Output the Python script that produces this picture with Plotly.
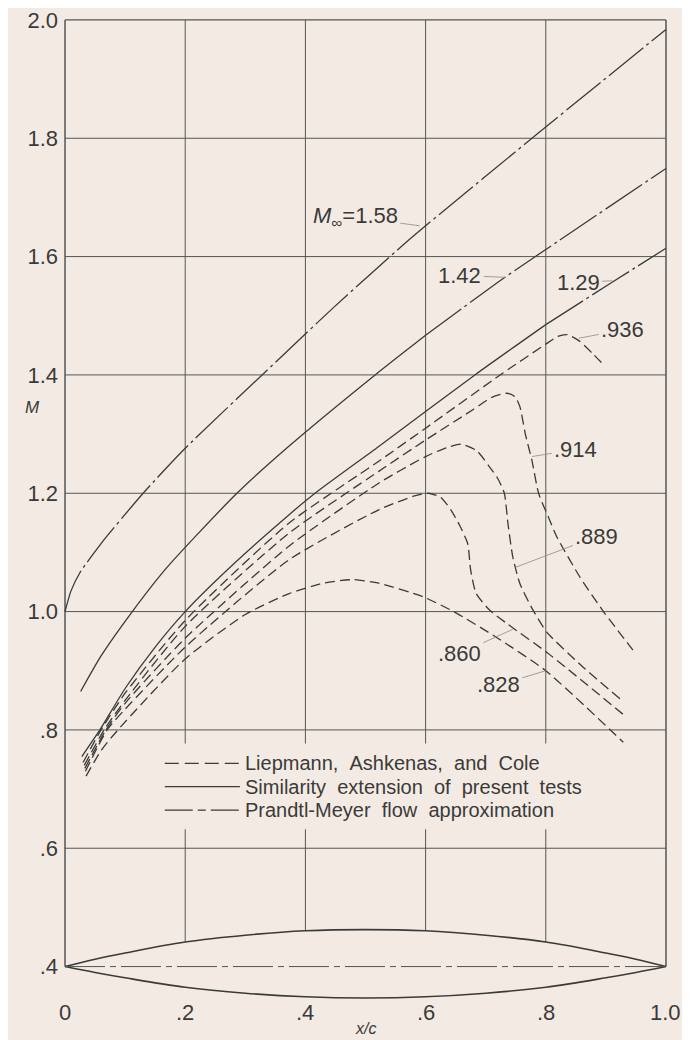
import numpy as np
import plotly.graph_objects as go

BG = "#f3ebe3"
INK = "#3a3a3a"
GRID = "#555555"
LEADER = "#9a948e"
FONT = "Liberation Sans, Arial, sans-serif"

# ---- axes ----
x_ticks = [0, 0.2, 0.4, 0.6, 0.8, 1.0]
x_ticklabels = ["0", ".2", ".4", ".6", ".8", "1.0"]
y_ticks = [0.4, 0.6, 0.8, 1.0, 1.2, 1.4, 1.6, 1.8, 2.0]
y_ticklabels = [".4", ".6", ".8", "1.0", "1.2", "1.4", "1.6", "1.8", "2.0"]

# ---- Liepmann, Ashkenas, and Cole (dashed) ----
m936_x = [0.03, 0.06, 0.1, 0.2, 0.372, 0.522, 0.6, 0.727, 0.8, 0.82, 0.836, 0.855, 0.878, 0.899]
m936_y = [0.745, 0.8, 0.862, 0.985, 1.149, 1.254, 1.31, 1.402, 1.452, 1.465, 1.468, 1.458, 1.436, 1.414]

m914_x = [0.032, 0.065, 0.1, 0.2, 0.372, 0.522, 0.6, 0.68, 0.71, 0.735, 0.749, 0.757, 0.766,
          0.777, 0.788, 0.805, 0.818, 0.857, 0.896, 0.945]
m914_y = [0.74, 0.8, 0.85, 0.975, 1.132, 1.237, 1.29, 1.342, 1.362, 1.369, 1.363, 1.346, 1.30,
          1.255, 1.2, 1.158, 1.127, 1.058, 1.0, 0.935]

m889_x = [0.033, 0.068, 0.1, 0.2, 0.372, 0.522, 0.6, 0.635, 0.659, 0.685, 0.706, 0.72, 0.731,
          0.737, 0.745, 0.757, 0.779, 0.802, 0.86, 0.924]
m889_y = [0.735, 0.8, 0.845, 0.955, 1.11, 1.217, 1.262, 1.277, 1.283, 1.272, 1.245, 1.225, 1.2,
          1.149, 1.093, 1.047, 1.002, 0.965, 0.908, 0.852]

m860_x = [0.034, 0.07, 0.1, 0.2, 0.372, 0.522, 0.58, 0.605, 0.625, 0.642, 0.657, 0.67, 0.675,
          0.684, 0.706, 0.735, 0.803, 0.935]
m860_y = [0.73, 0.8, 0.835, 0.94, 1.087, 1.172, 1.195, 1.2, 1.193, 1.172, 1.145, 1.115, 1.07,
          1.031, 1.003, 0.98, 0.93, 0.821]

m828_x = [0.035, 0.06, 0.088, 0.2, 0.3, 0.372, 0.43, 0.479, 0.522, 0.596, 0.652, 0.72, 0.8, 0.929]
m828_y = [0.722, 0.765, 0.8, 0.92, 0.995, 1.03, 1.048, 1.054, 1.048, 1.025, 0.997, 0.955, 0.9, 0.779]

# ---- similarity extension (solid) continuing as Prandtl-Meyer (dash-dot) ----
m142_x = [0.026, 0.06, 0.112, 0.17, 0.286, 0.372, 0.516, 0.6, 0.732, 0.819, 1.0]
m142_y = [0.865, 0.925, 1.0, 1.075, 1.2, 1.279, 1.4, 1.467, 1.565, 1.625, 1.749]
m142_split = 0.6

m129_x = [0.028, 0.058, 0.1, 0.15, 0.2, 0.28, 0.372, 0.416, 0.522, 0.682, 0.8, 0.911, 1.0]
m129_y = [0.755, 0.8, 0.87, 0.94, 1.0, 1.08, 1.163, 1.2, 1.279, 1.4, 1.485, 1.557, 1.614]
m129_split = 0.8

# ---- Prandtl-Meyer (dash-dot) ----
m158_x = [0.0, 0.01, 0.025, 0.06, 0.13, 0.2, 0.328, 0.448, 0.563, 0.6, 0.783, 1.0]
m158_y = [1.0, 1.035, 1.066, 1.115, 1.2, 1.276, 1.4, 1.515, 1.62, 1.652, 1.805, 1.984]

# ---- airfoil (biconvex section drawn along M = .4) ----
foil_base = 0.4
foil_x = [0, 0.05, 0.1, 0.2, 0.3, 0.4, 0.5, 0.6, 0.7, 0.8, 0.9, 0.95, 1.0]
foil_upper = [0, 0.0125, 0.023, 0.0415, 0.053, 0.0605, 0.0625, 0.0605, 0.053, 0.0415, 0.023, 0.0125, 0]
foil_lower = [0, 0.010, 0.019, 0.035, 0.045, 0.051, 0.053, 0.051, 0.045, 0.035, 0.019, 0.010, 0]

# ---- curve labels: text, text position, leader end on curve ----
lab_text = ["<i>M</i><sub>∞</sub>=1.58", "1.42", "1.29", ".936", ".914", ".889", ".860", ".828"]
lab_x = [0.483, 0.657, 0.854, 0.928, 0.85, 0.885, 0.656, 0.721]
lab_y = [1.667, 1.568, 1.557, 1.476, 1.274, 1.127, 0.929, 0.876]
lab_hx = [0.59, 0.732, 0.911, 0.855, 0.777, 0.75, 0.745, 0.8]
lab_hy = [1.652, 1.565, 1.559, 1.462, 1.262, 1.075, 0.97, 0.9]

# ---- key (legend) ----
legend_names = ["Liepmann, Ashkenas, and Cole",
                "Similarity extension of present tests",
                "Prandtl-Meyer flow approximation"]

DASH = "10px,5px"
DASHDOT = "44px,4px,3px,4px"
KEY_DASH = ["14px,6px", "solid", "28px,5px,8px,5px"]
LW = 1.3

# key placement (in axis units)
key_box = dict(x0=0.14, x1=0.907, y0=0.632, y1=0.777)
key_line_x = (0.166, 0.291)
key_text_x = 0.297
key_rows_y = [0.7435, 0.704, 0.6644]

fig = go.Figure()

# airfoil
fig.add_trace(go.Scatter(x=foil_x, y=[foil_base + v for v in foil_upper], mode="lines",
                         line=dict(color=INK, width=1.6, shape="spline", smoothing=1.0),
                         showlegend=False, hoverinfo="skip"))
fig.add_trace(go.Scatter(x=foil_x, y=[foil_base - v for v in foil_lower], mode="lines",
                         line=dict(color=INK, width=1.6, shape="spline", smoothing=1.0),
                         showlegend=False, hoverinfo="skip"))
fig.add_trace(go.Scatter(x=[foil_x[0], foil_x[-1]], y=[foil_base, foil_base], mode="lines",
                         line=dict(color=GRID, width=1.0, dash="40px,5px,6px,5px"),
                         showlegend=False, hoverinfo="skip"))

# dashed curves
dashed = [(m936_x, m936_y), (m914_x, m914_y), (m889_x, m889_y), (m860_x, m860_y), (m828_x, m828_y)]
for xs, ys in dashed:
    fig.add_trace(go.Scatter(x=xs, y=ys, mode="lines", name=legend_names[0], showlegend=False,
                             line=dict(color=INK, width=LW, dash=DASH, shape="spline", smoothing=0.6),
                             hoverinfo="skip"))

# solid + dash-dot curves
for xs, ys, sp in [(m142_x, m142_y, m142_split), (m129_x, m129_y, m129_split)]:
    k = xs.index(sp)
    fig.add_trace(go.Scatter(x=xs[:k + 1], y=ys[:k + 1], mode="lines", name=legend_names[1],
                             showlegend=False,
                             line=dict(color=INK, width=LW, shape="spline", smoothing=0.6),
                             hoverinfo="skip"))
    fig.add_trace(go.Scatter(x=xs[k:], y=ys[k:], mode="lines", name=legend_names[2],
                             showlegend=False,
                             line=dict(color=INK, width=LW, dash=DASHDOT, shape="spline", smoothing=0.6),
                             hoverinfo="skip"))

fig.add_trace(go.Scatter(x=m158_x, y=m158_y, mode="lines", name=legend_names[2], showlegend=False,
                         line=dict(color=INK, width=LW, dash=DASHDOT, shape="spline", smoothing=0.6),
                         hoverinfo="skip"))

# grid as shapes (vertical lines stop on the airfoil)
shapes = []
for xv in x_ticks:
    ybot = foil_base + float(np.interp(xv, foil_x, foil_upper))
    w = 1.5 if xv in (0, 1.0) else 1.0
    shapes.append(dict(type="line", xref="x", yref="y", x0=xv, x1=xv, y0=ybot, y1=y_ticks[-1],
                       line=dict(color=GRID, width=w), layer="below"))
for yv in y_ticks[1:]:
    shapes.append(dict(type="line", xref="x", yref="y", x0=x_ticks[0], x1=x_ticks[-1], y0=yv, y1=yv,
                       line=dict(color=GRID, width=1.2 if yv == 2.0 else 1.0), layer="below"))

# key: blank box over the grid, sample lines
shapes.append(dict(type="rect", xref="x", yref="y", layer="below", fillcolor=BG,
                   line=dict(width=0), **key_box))
for dsh, ry in zip(KEY_DASH, key_rows_y):
    shapes.append(dict(type="line", xref="x", yref="y", x0=key_line_x[0], x1=key_line_x[1],
                       y0=ry, y1=ry, line=dict(color=INK, width=LW, dash=dsh)))

annotations = []
for name, ry in zip(legend_names, key_rows_y):
    wide = name.replace(" ", " \u00a0")  # the lettering has wide word spacing
    annotations.append(dict(text=wide, x=key_text_x, y=ry, xref="x", yref="y", showarrow=False,
                            xanchor="left", yanchor="middle", borderpad=0,
                            font=dict(family=FONT, size=20, color=INK)))
for t, tx, ty, hx, hy in zip(lab_text, lab_x, lab_y, lab_hx, lab_hy):
    annotations.append(dict(text=t, x=hx, y=hy, xref="x", yref="y", ax=tx, ay=ty, axref="x", ayref="y",
                            showarrow=True, arrowhead=0, arrowwidth=0.9, arrowcolor=LEADER,
                            standoff=0, startstandoff=1,
                            font=dict(family=FONT, size=22, color=INK)))
for xv, lab in zip(x_ticks, x_ticklabels):
    annotations.append(dict(text=lab, x=xv, y=0.323, xref="x", yref="y", showarrow=False,
                            font=dict(family=FONT, size=22, color=INK)))
annotations.append(dict(text="<i>x/c</i>", x=0.5, y=0.296, xref="x", yref="y", showarrow=False,
                        font=dict(family=FONT, size=16, color=INK)))
annotations.append(dict(text="<i>M</i>", x=-0.058, y=1.345, xref="paper", yref="y", showarrow=False,
                        font=dict(family=FONT, size=17, color=INK)))

# page body has an 8px margin: the figure is sized to fit inside it
fig.update_layout(
    width=682, height=1032,
    margin=dict(l=51, r=18, t=1, b=0),
    paper_bgcolor=BG, plot_bgcolor=BG,
    font=dict(family=FONT, size=22, color=INK),
    xaxis=dict(range=[-0.01, 1.01], showgrid=False, zeroline=False, showline=False,
               showticklabels=False, ticks=""),
    yaxis=dict(range=[0.2759, 2.01], showgrid=False, zeroline=False, showline=False,
               tickvals=y_ticks, ticktext=y_ticklabels, ticks="", ticklabeloverflow="allow",
               tickfont=dict(family=FONT, size=22, color=INK)),
    shapes=shapes,
    annotations=annotations,
    showlegend=False,
)

fig.write_html("out.html")
